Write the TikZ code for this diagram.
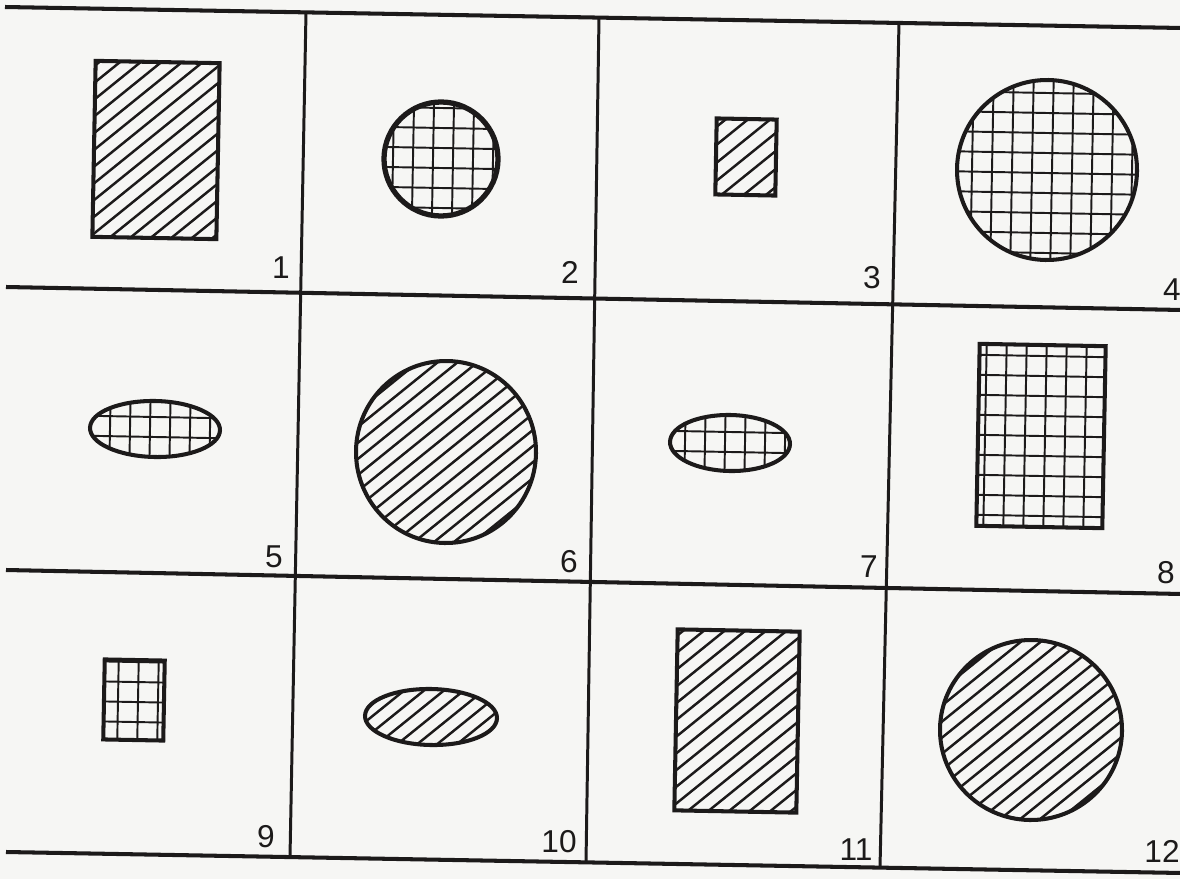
\documentclass[tikz,border=0pt]{standalone}
\usepackage{fontspec}
\setmainfont{Liberation Sans}
\definecolor{ink}{HTML}{1C1A1A}
\definecolor{paper}{HTML}{F6F6F4}
\tikzset{
  frame/.style={line width=2.3pt, draw=ink},
  outline/.style={line width=2.3pt, draw=ink},
  hatchline/.style={line width=1.4pt, draw=ink},
  gridline/.style={line width=1.1pt, draw=ink},
  lbl/.style={font=\fontsize{18}{20}\selectfont, text=ink, inner sep=0pt}
}
% hatch lines at 40 degrees, perpendicular spacing #1
\newcommand\HatchLines[1]{%
  \foreach \k in {-20,...,20}{%
    \draw[hatchline] ({\k*#1*0.643-250*0.766},{\k*#1*0.766+250*0.643}) --
                     ({\k*#1*0.643+250*0.766},{\k*#1*0.766-250*0.643});}}
% hatched rectangle: cx, cy, w, h, spacing
\newcommand\HatchRect[6][]{%
  \begin{scope}[shift={(#2,#3)},rotate=-1.07]
    \begin{scope}
      \clip (-#4/2,-#5/2) rectangle (#4/2,#5/2);
      \HatchLines{#6}
    \end{scope}
    \draw[outline,#1] (-#4/2,-#5/2) rectangle (#4/2,#5/2);
  \end{scope}}
% hatched ellipse: cx, cy, rx, ry, spacing
\newcommand\HatchEll[6][]{%
  \begin{scope}[shift={(#2,#3)},rotate=-1.07]
    \begin{scope}
      \clip (0,0) ellipse [x radius=#4, y radius=#5];
      \HatchLines{#6}
    \end{scope}
    \draw[outline,#1] (0,0) ellipse [x radius=#4, y radius=#5];
  \end{scope}}
% squared ellipse: cx, cy, rx, ry, phase x, phase y
\newcommand\GridEll[7][]{%
  \begin{scope}[shift={(#2,#3)},rotate=-1.07]
    \begin{scope}
      \clip (0,0) ellipse [x radius=#4, y radius=#5];
      \foreach \k in {-6,...,6}{%
        \draw[gridline] ({#6+20*\k},-120) -- ({#6+20*\k},120);
        \draw[gridline] (-120,{#7+20*\k}) -- (120,{#7+20*\k});}
    \end{scope}
    \draw[outline,#1] (0,0) ellipse [x radius=#4, y radius=#5];
  \end{scope}}
% squared rectangle: cx, cy, w, h, phase x, phase y
\newcommand\GridRect[7][]{%
  \begin{scope}[shift={(#2,#3)},rotate=-1.07]
    \begin{scope}
      \clip (-#4/2,-#5/2) rectangle (#4/2,#5/2);
      \foreach \k in {-6,...,6}{%
        \draw[gridline] ({#6+20*\k},-120) -- ({#6+20*\k},120);
        \draw[gridline] (-120,{#7+20*\k}) -- (120,{#7+20*\k});}
    \end{scope}
    \draw[outline,#1] (-#4/2,-#5/2) rectangle (#4/2,#5/2);
  \end{scope}}
\begin{document}
\begin{tikzpicture}[x=0.02cm,y=-0.02cm]
\useasboundingbox (0,0) rectangle (1180,879);
\clip (0,0) rectangle (1180,879);
\fill[paper] (0,0) rectangle (1180,879);

% table lines
\coordinate (T0) at (5,7);     \coordinate (T4) at (1182,28);
\coordinate (R1a) at (6,287);  \coordinate (R1b) at (1182,310);
\coordinate (R2a) at (6,570);  \coordinate (R2b) at (1182,594);
\coordinate (B0) at (6,852);   \coordinate (B4) at (1182,873);
\coordinate (V1t) at (306,12.4); \coordinate (V1b) at (290,857);
\coordinate (V2t) at (599,17.6); \coordinate (V2b) at (586,862.4);
\coordinate (V3t) at (899,23);   \coordinate (V3b) at (880,867.6);
\draw[frame] (T0) -- (T4);
\draw[frame] (R1a) -- (R1b);
\draw[frame] (R2a) -- (R2b);
\draw[frame] (B0) -- (B4);
\draw[frame,line width=1.7pt] (V1t) -- (V1b);
\draw[frame,line width=1.7pt] (V2t) -- (V2b);
\draw[frame,line width=1.7pt] (V3t) -- (V3b);

% figures
\HatchRect{156}{150}{124}{176}{13}
\GridEll[line width=3pt]{441}{159}{57}{57}{12}{9}
\HatchRect{746}{157}{60}{76}{14}
\GridEll{1047}{170}{90}{90}{5}{3}
\GridEll{155}{429}{65}{28}{15}{8}
\HatchEll{446}{452}{90}{91}{12.5}
\GridEll{730}{443}{60}{28}{15}{9}
\GridRect{1041}{436}{126}{182}{4}{0}
\GridRect{134}{700}{60}{80}{4}{2}
\HatchEll{431}{717}{66}{28}{12.5}
\HatchRect{737}{721}{122}{181}{13}
\HatchEll{1031}{730}{91}{90}{12.5}

% numbers
\node[lbl] (n1) at (281,268) {1};
\node[lbl] (n2) at (570,272) {2};
\node[lbl] (n3) at (872,278) {3};
\node[lbl] (n4) at (1172,290) {4};
\node[lbl] (n5) at (274,557) {5};
\node[lbl] (n6) at (569,562) {6};
\node[lbl] (n7) at (869,567) {7};
\node[lbl] (n8) at (1166,573) {8};
\node[lbl] (n9) at (266,837) {9};
\node[lbl] (n10) at (559,842) {10};
\node[lbl] (n11) at (856,850) {11};
\node[lbl] (n12) at (1162,851) {12};
\end{tikzpicture}
\end{document}
